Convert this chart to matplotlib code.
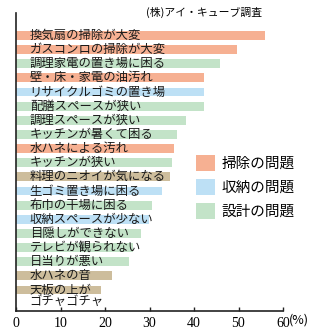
import matplotlib
matplotlib.use("Agg")
import matplotlib.pyplot as plt
from matplotlib.patches import Patch

plt.rcParams['font.family'] = ['Noto Sans CJK JP', 'DejaVu Sans']

labels = ["換気扇の掃除が大変", "ガスコンロの掃除が大変", "調理家電の置き場に困る",
          "壁・床・家電の油汚れ", "リサイクルゴミの置き場", "配膳スペースが狭い",
          "調理スペースが狭い", "キッチンが暑くて困る", "水ハネによる汚れ",
          "キッチンが狭い", "料理のニオイが気になる", "生ゴミ置き場に困る",
          "布巾の干場に困る", "収納スペースが少ない", "目隠しができない",
          "テレビが観られない", "日当りが悪い", "水ハネの音", "天板の上が\nゴチャゴチャ"]
values = [56.0, 49.7, 45.8, 42.3, 42.3, 42.3, 38.3, 36.2, 35.6, 35.1,
          34.5, 32.8, 30.5, 29.8, 28.2, 26.4, 25.3, 21.5, 19.2]
groups = ["clean", "clean", "design", "clean", "store", "design", "design", "design",
          "clean", "design", "other", "store", "design", "store", "design", "design",
          "design", "other", "other"]

colors = {"clean": "#f6b092", "store": "#bde0f5", "design": "#c3e3c8", "other": "#cdbd9c"}
legend_names = [("clean", "掃除の問題"), ("store", "収納の問題"), ("design", "設計の問題")]

fig = plt.figure(figsize=(3.25, 3.34), dpi=100)
ax = fig.add_axes([16 / 325, 1 - 311 / 334, 267 / 325, 298 / 334])

ypos = list(range(len(labels)))
ax.barh(ypos, values, height=0.63, color=[colors[g] for g in groups], zorder=1)

for y, lab in zip(ypos, labels):
    for k, line in enumerate(lab.split("\n")):
        ax.text(3.1, y + k * 0.83, line, fontsize=8.9, va="center", ha="left",
                color="#1a1a1a", zorder=3)

ax.set_xlim(0, 60)
ax.set_ylim(len(labels) - 1 + 1.485, -1.59)
ax.set_yticks([])
ax.set_xticks(range(0, 61, 10))
ax.set_xticklabels([str(v) for v in range(0, 61, 10)], family="Liberation Serif", fontsize=10)
ax.tick_params(axis="x", direction="in", length=3, width=1, pad=4, color="#222222")
for s in ["top", "right"]:
    ax.spines[s].set_visible(False)
for s in ["left", "bottom"]:
    ax.spines[s].set_linewidth(1.2)
    ax.spines[s].set_color("#222222")

# unit after the last tick label
ax.text(61.3, -0.03, "(%)", transform=ax.get_xaxis_transform(), fontsize=9,
        va="center", ha="left")

fig.text(262 / 325, 1 - 12 / 334, "(株)アイ・キューブ調査", fontsize=7.8, ha="right", va="center")

handles = [Patch(facecolor=colors[g], edgecolor="none") for g, _ in legend_names]
ax.legend(handles, [n for _, n in legend_names], loc="upper left",
          bbox_to_anchor=(189 / 325, 1 - 148 / 334), bbox_transform=fig.transFigure,
          frameon=False, fontsize=10.5, handlelength=1.3, handleheight=1.3,
          handletextpad=0.4, labelspacing=0.55, borderpad=0)

fig.savefig("out.png", dpi=100)
